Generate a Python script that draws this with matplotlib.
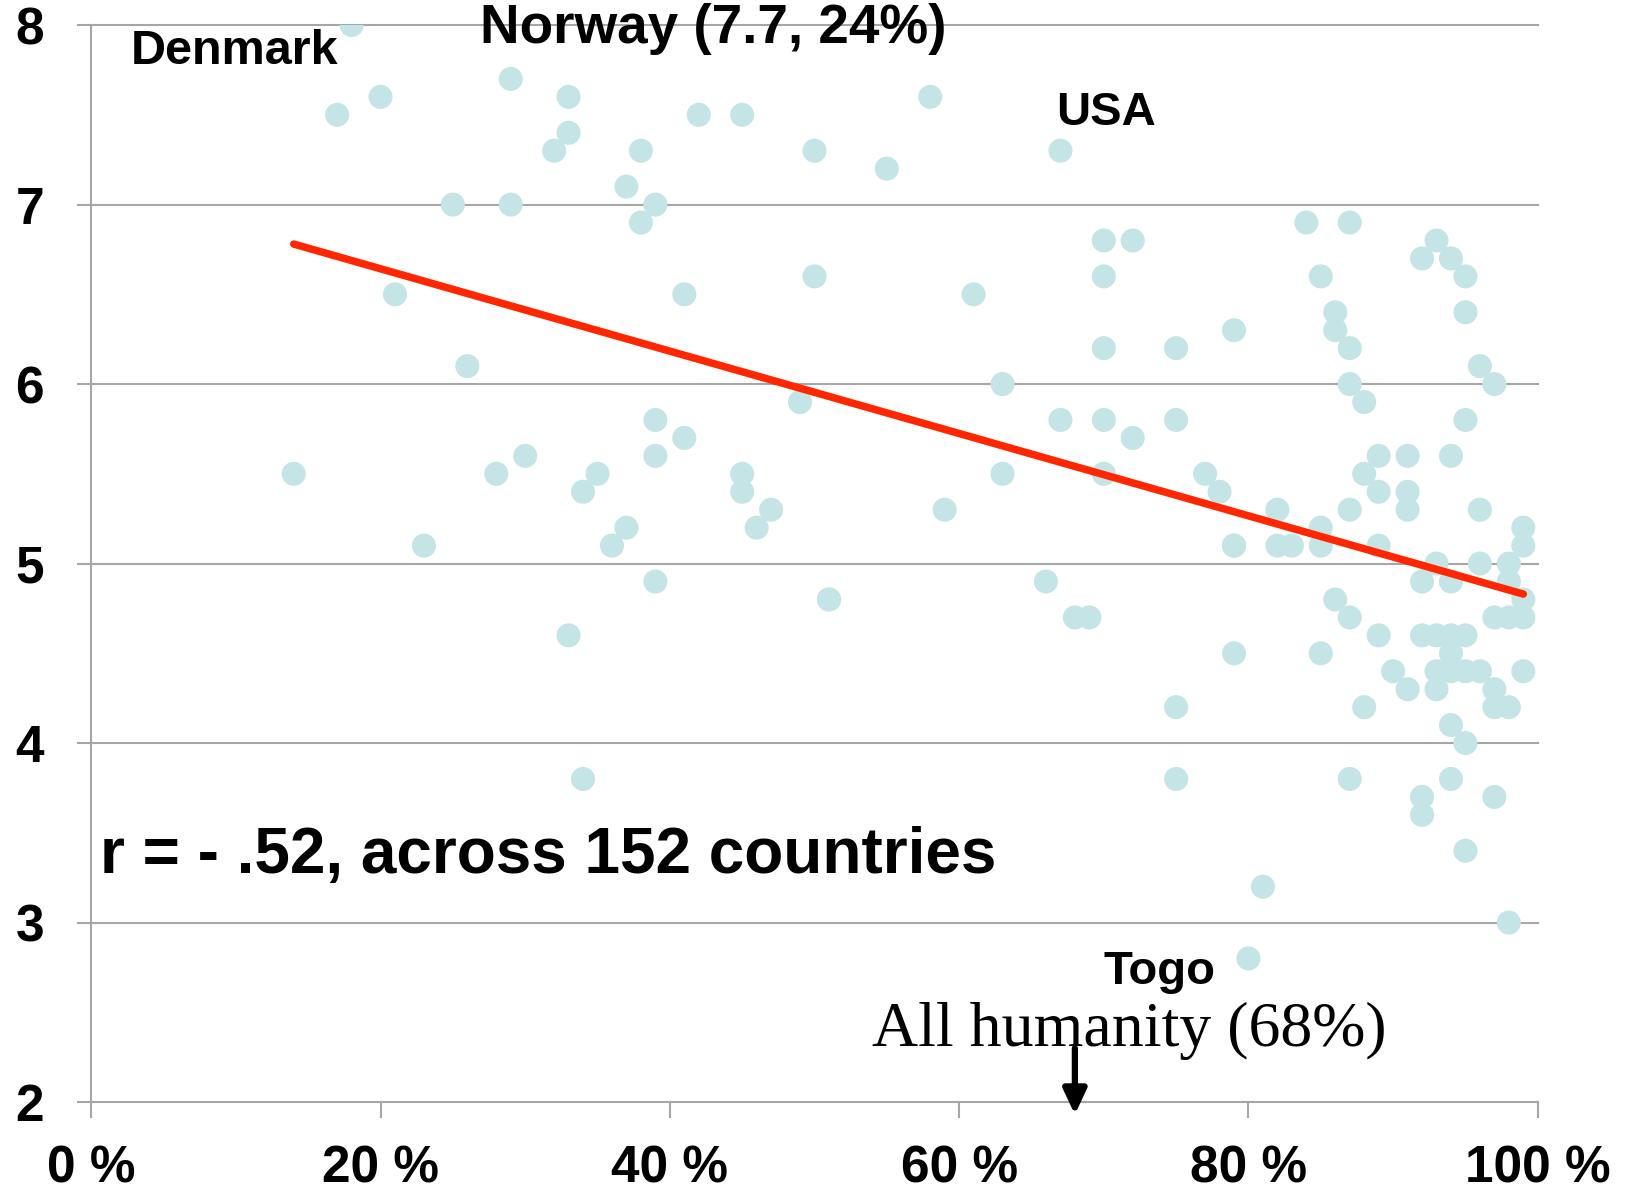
import numpy as np
import matplotlib
matplotlib.use("Agg")
import matplotlib.pyplot as plt
from matplotlib.ticker import FuncFormatter

# share of people saying religion is important (%), life satisfaction (0-10)
religiosity = [
    18, 17, 20, 21, 14, 23, 25, 26, 29, 29, 28, 30, 32, 33, 33, 33, 34, 35, 34, 36,
    37, 37, 38, 38, 39, 39, 39, 39, 41, 41, 42, 45, 45, 45, 46, 47, 49, 50, 50, 51,
    51, 55, 58, 59, 61, 63, 63, 66, 67, 67, 68, 69, 70, 70, 70, 70, 70, 72, 72, 75,
    75, 75, 75, 77, 78, 79, 79, 79, 79, 80, 81, 82, 82, 83, 84, 85, 85, 85, 85, 86,
    86, 86, 87, 87, 87, 87, 87, 87, 88, 88, 88, 89, 89, 89, 89, 90, 91, 91, 91, 91,
    92, 92, 92, 92, 92, 93, 93, 93, 93, 93, 94, 94, 94, 94, 94, 94, 94, 94, 95, 95,
    95, 95, 95, 95, 95, 96, 96, 96, 96, 97, 97, 97, 97, 97, 98, 98, 98, 98, 98, 99,
    99, 99, 99, 99,
]
life_sat = [
    8.0, 7.5, 7.6, 6.5, 5.5, 5.1, 7.0, 6.1, 7.7, 7.0, 5.5, 5.6, 7.3, 7.4, 7.6, 4.6, 5.4, 5.5, 3.8, 5.1,
    7.1, 5.2, 7.3, 6.9, 7.0, 5.8, 5.6, 4.9, 6.5, 5.7, 7.5, 7.5, 5.5, 5.4, 5.2, 5.3, 5.9, 7.3, 6.6, 4.8,
    4.8, 7.2, 7.6, 5.3, 6.5, 6.0, 5.5, 4.9, 7.3, 5.8, 4.7, 4.7, 6.8, 6.6, 6.2, 5.8, 5.5, 6.8, 5.7, 6.2,
    5.8, 4.2, 3.8, 5.5, 5.4, 6.3, 5.1, 5.1, 4.5, 2.8, 3.2, 5.3, 5.1, 5.1, 6.9, 6.6, 5.2, 5.1, 4.5, 6.4,
    6.3, 4.8, 6.9, 6.2, 6.0, 5.3, 4.7, 3.8, 5.9, 5.5, 4.2, 5.6, 5.4, 5.1, 4.6, 4.4, 5.6, 5.4, 5.3, 4.3,
    6.7, 4.9, 4.6, 3.7, 3.6, 6.8, 5.0, 4.6, 4.4, 4.3, 6.7, 5.6, 4.9, 4.6, 4.5, 4.4, 4.1, 3.8, 6.6, 6.4,
    5.8, 4.6, 4.4, 4.0, 3.4, 6.1, 5.3, 5.0, 4.4, 6.0, 4.7, 4.3, 4.2, 3.7, 5.0, 4.9, 4.7, 4.2, 3.0, 5.2,
    5.1, 4.8, 4.7, 4.4,
]

# fitted trend line end points
trend_x = [14, 99]
trend_y = [6.78, 4.83]

humanity_pct = 68

x_ticks = [0, 20, 40, 60, 80, 100]
y_ticks = [2, 3, 4, 5, 6, 7, 8]

grid_col = "#a6a6a6"
dot_col = "#c5e4e6"
line_col = "#ff2600"

plt.rcParams["font.family"] = ["Liberation Sans", "DejaVu Sans"]

fig = plt.figure(figsize=(16.29, 11.94), dpi=100)
ax = fig.add_axes([0.056, 0.077, 0.888, 0.902])

ax.scatter(religiosity, life_sat, s=300, color=dot_col, edgecolors="none", zorder=3)
ax.plot(trend_x, trend_y, color=line_col, lw=5.4, solid_capstyle="round", zorder=4)

ax.set_xlim(0, 100)
ax.set_ylim(2, 8)
ax.set_xticks(x_ticks)
ax.set_yticks(y_ticks)
ax.xaxis.set_major_formatter(FuncFormatter(lambda v, p: f"{int(v)} %"))
ax.yaxis.set_major_formatter(FuncFormatter(lambda v, p: f"{int(v)}"))

for y in y_ticks[1:]:
    ax.axhline(y, color=grid_col, lw=1.5, zorder=1, clip_on=False)

for side in ["top", "right"]:
    ax.spines[side].set_visible(False)
for side in ["left", "bottom"]:
    ax.spines[side].set_color(grid_col)
    ax.spines[side].set_linewidth(1.5)

ax.tick_params(axis="y", length=10, width=1.5, color=grid_col, pad=24,
               labelsize=37)
ax.tick_params(axis="x", length=11.5, width=1.5, color=grid_col, pad=19,
               labelsize=37)
for lab in ax.get_xticklabels() + ax.get_yticklabels():
    lab.set_fontweight("bold")

# country labels and annotations
ax.text(2.7, 7.85, "Denmark", fontsize=35, fontweight="bold", va="center", ha="left")
ax.text(26.9, 7.98, "Norway (7.7, 24%)", fontsize=39.5, fontweight="bold",
        va="center", ha="left", clip_on=False)
ax.text(66.7, 7.51, "USA", fontsize=34, fontweight="bold", va="center", ha="left")
ax.text(0.6, 3.37, "r = - .52, across 152 countries", fontsize=46, fontweight="bold",
        va="center", ha="left")
ax.text(70.0, 2.66, "Togo", fontsize=34, fontweight="bold", va="baseline", ha="left")
ax.text(54.0, 2.31, "All humanity (68%)", fontsize=46, family=["Liberation Serif", "DejaVu Serif"],
        va="baseline", ha="left")

ax.annotate("", xy=(humanity_pct, 1.93), xytext=(humanity_pct, 2.30),
            arrowprops=dict(arrowstyle="-|>,head_length=1.5,head_width=0.7",
                            color="black", lw=4.5, shrinkA=0, shrinkB=0),
            annotation_clip=False)

fig.savefig("out.png", dpi=100, facecolor="white")
